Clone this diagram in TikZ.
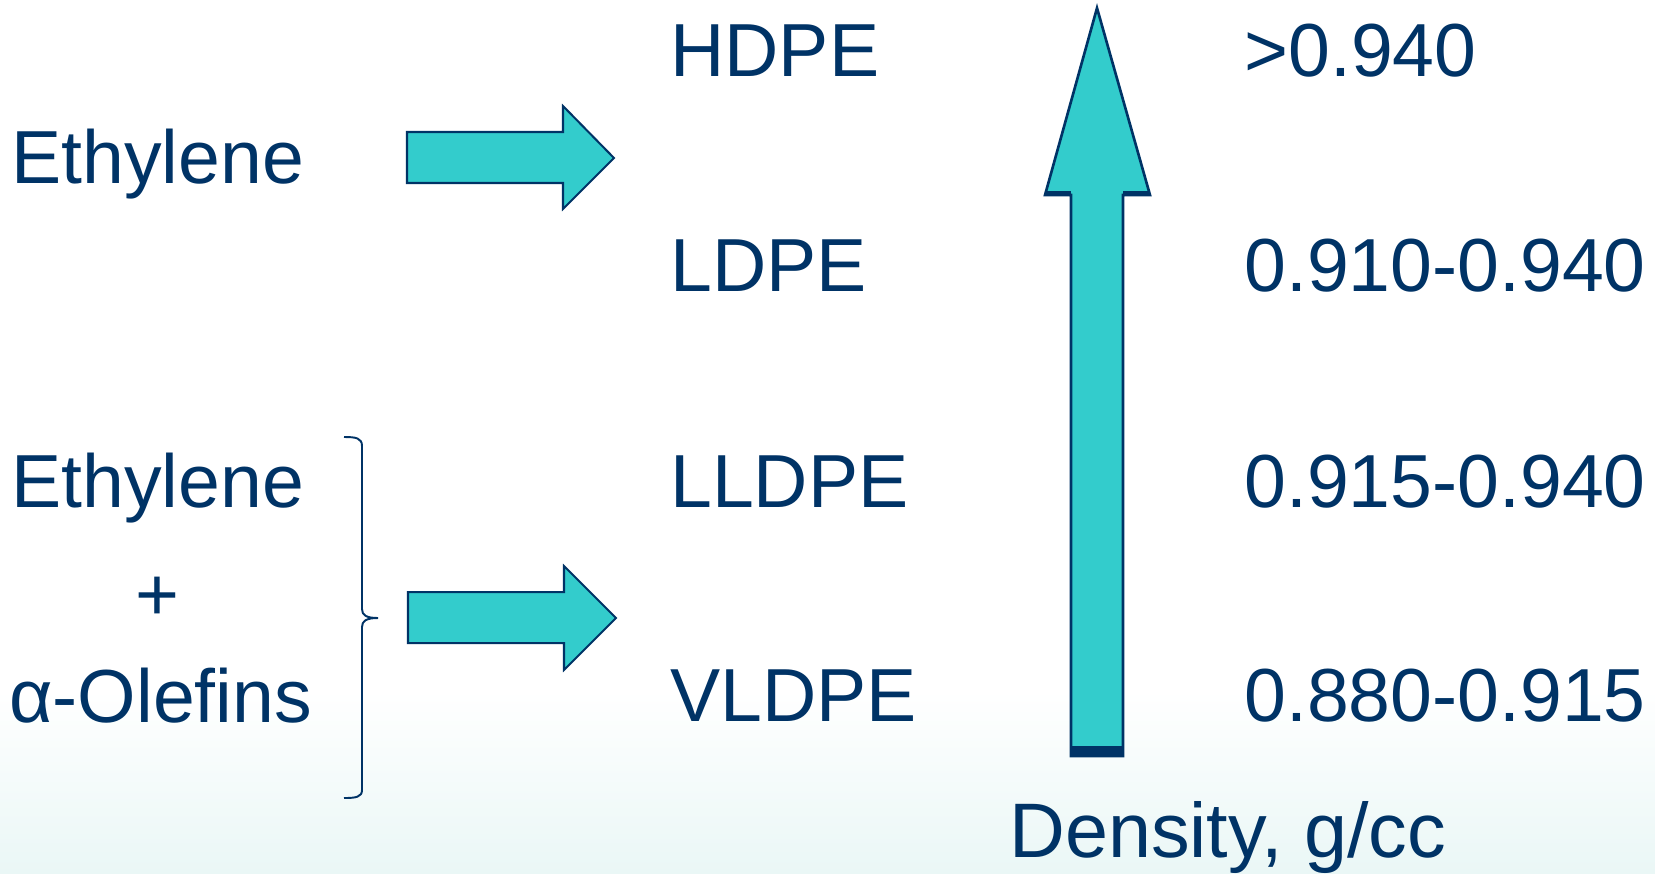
\documentclass[tikz,border=0pt]{standalone}
\usepackage{fontspec}
\setmainfont{Liberation Sans}
\usepackage{tikz}

\definecolor{navy}{RGB}{0,51,102}
\definecolor{cyanfill}{RGB}{51,204,204}
\definecolor{mint}{RGB}{234,247,246}

\tikzset{
  lbl/.style={anchor=base west, inner sep=0pt, text=navy, font=\fontsize{42.8}{50}\selectfont},
  blockarrow/.style={draw=navy, fill=cyanfill, line width=1.15pt, line join=miter},
  bracket/.style={draw=navy, line width=1.1pt}
}

\begin{document}
\begin{tikzpicture}[x=0.02cm, y=-0.02cm]
  % page and the light band at the bottom
  \useasboundingbox (0,0) rectangle (1655,873);
  \fill[white] (0,0) rectangle (1655,873);
  \shade[top color=white, bottom color=mint] (0,690) rectangle (1655,873);

  % feeds
  \node[lbl] (eth) at (11,183) {Ethylene};
  \node[lbl] (eth2) at (11,507) {Ethylene};
  \node[anchor=base, inner sep=0pt, text=navy, font=\fontsize{42.8}{50}\selectfont] (plus) at (157,620) {+};
  \node[lbl] (olef) at (9,722) {α-Olefins};

  % grades
  \node[lbl] (hdpe) at (670,76) {HDPE};
  \node[lbl] (ldpe) at (670,291) {LDPE};
  \node[lbl] (lldpe) at (670,507) {LLDPE};
  \node[lbl] (vldpe) at (670,721) {VLDPE};

  % densities
  \node[lbl] (dhd) at (1244,76) {>0.940};
  \node[lbl] (dld) at (1244,291) {0.910-0.940};
  \node[lbl] (dlld) at (1244,507) {0.915-0.940};
  \node[lbl] (dvld) at (1244,721) {0.880-0.915};
  \node[lbl, font=\fontsize{44}{50}\selectfont] (dens) at (1009,857) {Density, g/cc};

  % brace round the copolymer feed
  \draw[bracket] (344,437) .. controls (356,437) and (362,438) .. (362,446)
    -- (362,609) .. controls (362,615) and (366,618) .. (378,618)
    .. controls (366,618) and (362,621) .. (362,627)
    -- (362,790) .. controls (362,797) and (356,798) .. (344,798);

  % block arrows
  \draw[blockarrow] (407,132) -- (563,132) -- (563,106) -- (614,158)
    -- (563,209) -- (563,183) -- (407,183) -- cycle;
  \draw[blockarrow] (408,592) -- (564,592) -- (564,566) -- (616,618)
    -- (564,670) -- (564,643) -- (408,643) -- cycle;

  % density axis
  \draw[blockarrow, line width=1.5pt] (1071,756) -- (1071,195) -- (1045,195) -- (1097,8)
    -- (1150,195) -- (1123,195) -- (1123,756) -- cycle;
  \draw[navy, line width=2.5pt] (1046,193) -- (1071,193) (1123,193) -- (1149,193);
  \fill[navy] (1071,746) rectangle (1123,757);
\end{tikzpicture}
\end{document}
